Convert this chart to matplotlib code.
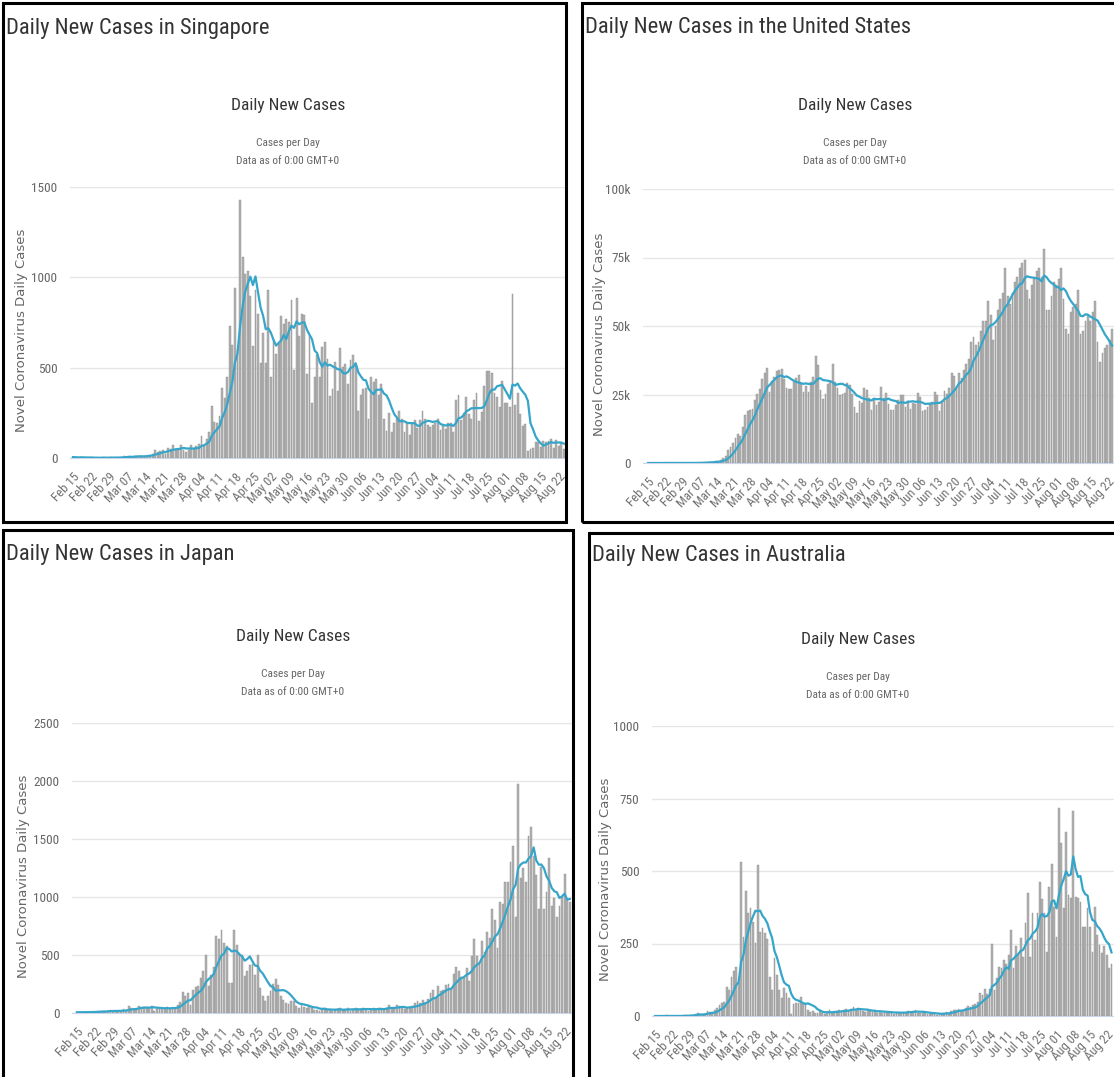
import numpy as np
import pandas as pd
import matplotlib
matplotlib.use("Agg")
import matplotlib.pyplot as plt
from matplotlib import font_manager
from matplotlib.font_manager import FontProperties
from matplotlib.patches import Rectangle

W, H = 1114, 1077

dates = pd.date_range("2020-02-15", periods=192, freq="D")

# daily new cases, one row per week starting Feb 15
singapore = [
    5, 3, 2, 4, 3, 1, 1,
    3, 1, 1, 1, 2, 3, 2,
    0, 4, 2, 2, 2, 7, 13,
    8, 12, 0, 10, 12, 12, 9,
    13, 14, 17, 23, 47, 32, 40,
    47, 23, 54, 49, 73, 52, 49,
    70, 42, 35, 47, 74, 49, 65,
    75, 120, 66, 106, 142, 287, 198,
    191, 233, 386, 334, 447, 728, 623,
    942, 596, 1426, 1111, 1016, 1037, 897,
    618, 931, 799, 528, 690, 528, 932,
    447, 657, 573, 632, 788, 741, 768,
    753, 876, 486, 884, 675, 796, 793,
    465, 682, 305, 451, 570, 448, 614,
    642, 548, 344, 383, 533, 373, 611,
    506, 518, 408, 544, 569, 517, 261,
    347, 383, 386, 218, 451, 422, 436,
    347, 407, 214, 151, 247, 142, 191,
    218, 262, 218, 142, 191, 130, 191,
    213, 167, 213, 262, 215, 185, 170,
    183, 191, 215, 157, 183, 158, 193,
    191, 146, 322, 347, 211, 248, 338,
    245, 215, 322, 359, 205, 255, 397,
    481, 483, 469, 359, 336, 282, 424,
    307, 307, 282, 908, 295, 362, 242,
    175, 188, 40, 50, 56, 86, 86,
    62, 93, 90, 93, 107, 57, 98,
    64, 87, 50,
]

usa = [
    0, 0, 0, 0, 0, 0, 0,
    0, 0, 0, 0, 0, 1, 1,
    8, 8, 22, 21, 31, 70, 80,
    116, 106, 163, 290, 320, 450, 500,
    640, 760, 1000, 1800, 2600, 4700, 5900,
    7300, 9300, 10700, 9900, 13000, 17600, 18900,
    19500, 19800, 23000, 25200, 27000, 30500, 33000,
    34500, 25800, 30000, 31500, 33500, 34000, 34300,
    30500, 27500, 27000, 27100, 30000, 31000, 32200,
    29000, 26000, 28000, 26000, 29500, 31500, 39000,
    35700, 26700, 23400, 25300, 28700, 30100, 36300,
    29600, 27300, 24900, 25300, 25600, 29200, 28400,
    25100, 20300, 18200, 22800, 21900, 27300, 26700,
    23600, 19300, 22900, 21200, 22300, 27600, 23600,
    25500, 21500, 19500, 19500, 21000, 23000, 25000,
    25000, 20600, 22500, 19800, 21900, 21600, 25500,
    24000, 18900, 19200, 20400, 21800, 22300, 26000,
    25000, 18800, 22600, 26400, 25100, 27300, 32700,
    31800, 27200, 33000, 31000, 34000, 36000, 38000,
    44000, 46000, 43000, 44000, 48000, 52000, 52000,
    59000, 54000, 45000, 50000, 56000, 60000, 62000,
    71000, 61000, 58000, 62000, 66000, 68000, 71000,
    73000, 74000, 63000, 60000, 65000, 67000, 70000,
    71000, 68000, 78000, 56000, 56000, 61000, 66000,
    65000, 67000, 71000, 60000, 49000, 47000, 55000,
    57000, 58000, 63000, 47000, 48000, 52000, 54000,
    52000, 55000, 59000, 44000, 37000, 40000, 42000,
    43000, 45000, 49000,
]

japan = [
    6, 7, 6, 8, 10, 8, 12,
    12, 10, 13, 14, 20, 21, 24,
    18, 14, 14, 18, 33, 27, 58,
    47, 33, 26, 59, 52, 54, 55,
    41, 64, 15, 44, 36, 46, 39,
    53, 43, 39, 41, 65, 96, 184,
    150, 173, 65, 200, 220, 235, 300,
    360, 500, 230, 330, 400, 660, 640,
    716, 600, 580, 260, 255, 716, 590,
    520, 500, 318, 360, 410, 420, 330,
    500, 212, 150, 100, 150, 190, 250,
    290, 240, 150, 110, 90, 80, 100,
    100, 60, 40, 80, 55, 40, 60,
    40, 25, 30, 20, 35, 45, 25,
    30, 20, 25, 35, 40, 25, 30,
    40, 15, 35, 40, 35, 30, 45,
    35, 20, 25, 40, 35, 45, 40,
    30, 45, 70, 40, 35, 65, 60,
    50, 35, 40, 55, 60, 85, 100,
    90, 110, 85, 125, 170, 195, 130,
    230, 190, 200, 240, 250, 210, 340,
    400, 360, 310, 300, 390, 280, 490,
    640, 490, 420, 620, 530, 700, 650,
    900, 800, 560, 960, 940, 1130, 1130,
    1300, 1440, 830, 1973, 1160, 1250, 1130,
    1530, 1600, 1350, 1190, 900, 1260, 900,
    1040, 1340, 920, 990, 830, 920, 1000,
    1200, 980, 960,
]

australia = [
    0, 0, 0, 0, 0, 2, 0,
    0, 0, 0, 0, 0, 2, 2,
    1, 3, 4, 8, 11, 6, 3,
    8, 16, 15, 14, 21, 26, 38,
    45, 50, 100, 90, 135, 155, 170,
    115, 532, 274, 430, 355, 372, 325,
    253, 520, 290, 302, 285, 264, 135,
    90, 200, 142, 90, 61, 95, 80,
    61, 8, 41, 44, 44, 67, 44,
    44, 21, 15, 18, 12, 10, 16,
    12, 8, 15, 20, 10, 14, 18,
    20, 15, 22, 24, 18, 25, 30,
    22, 28, 20, 18, 15, 20, 16,
    14, 20, 12, 18, 10, 15, 12,
    10, 12, 8, 15, 12, 10, 14,
    12, 18, 14, 16, 20, 12, 10,
    14, 10, 8, 6, 12, 8, 5,
    8, 6, 10, 14, 12, 18, 20,
    22, 25, 18, 20, 28, 35, 30,
    38, 40, 50, 78, 72, 92, 75,
    92, 250, 90, 130, 170, 165, 193,
    180, 210, 297, 165, 240, 210, 268,
    205, 320, 423, 205, 355, 262, 355,
    463, 402, 355, 222, 446, 525, 376,
    273, 716, 596, 372, 636, 418, 406,
    707, 412, 406, 394, 308, 308, 372,
    308, 222, 376, 279, 245, 216, 240,
    210, 165, 180,
]

sg_ticks = [0, 500, 1000, 1500]
us_ticks = [0, 25000, 50000, 75000, 100000]
us_labels = ["0", "25k", "50k", "75k", "100k"]
jp_ticks = [0, 500, 1000, 1500, 2000, 2500]
au_ticks = [0, 250, 500, 750, 1000]

for s in (singapore, usa, japan, australia):
    assert len(s) == len(dates), len(s)


def narrow_font():
    # look for any narrow / condensed face on the system
    prefs = ["liberationsansnarrow-regular", "robotocondensed-regular",
             "dejavusanscondensed.", "opensans_condensed", "opensanscondensed",
             "notosans-condensed", "condensed-regular"]
    files = [f.fname for f in font_manager.fontManager.ttflist]
    for p in prefs:
        for fn in files:
            if p in fn.lower().replace(" ", ""):
                return fn
    for fn in files:
        low = fn.lower()
        if ("narrow" in low or "condensed" in low) and "bold" not in low and "italic" not in low \
                and "light" not in low and "oblique" not in low:
            return fn
    return None


NARROW_FILE = narrow_font()


def fp(size):
    if NARROW_FILE:
        return FontProperties(fname=NARROW_FILE, size=size)
    return FontProperties(family="Liberation Sans", size=size * 0.85)


BAR = "#b3b3b3"
BAR_EDGE = "#8c8c8c"
LINE = "#35a6ca"
GREY = "#666666"

fig = plt.figure(figsize=(W / 100, H / 100), dpi=100)


def fx(x):
    return x / W


def fy(y):
    return 1 - y / H


# (country, values, yticks, ylabels, panel box, plot box, feb15 px, px per day,
#  title baseline, chart title x, chart title baseline, y label x)
panels = [
    ("Singapore", singapore, sg_ticks, [str(t) for t in sg_ticks],
     (3, 3, 566, 522), (70, 187, 566, 458), 73, 2.57, 34, 288, 110, 22),
    ("the United States", usa, us_ticks, us_labels,
     (582, 3, 1118, 522), (643, 189, 1114, 463), 648, 2.43, 33, 855, 110, 599),
    ("Japan", japan, jp_ticks, [str(t) for t in jp_ticks],
     (3, 530, 573, 1081), (72, 723, 573, 1013), 77, 2.58, 560, 293, 641, 24),
    ("Australia", australia, au_ticks, [str(t) for t in au_ticks],
     (589, 533, 1118, 1081), (652, 726, 1114, 1016), 655, 2.39, 561, 858, 644, 605),
]

days = np.arange(len(dates))
tick_days = days[::7]
tick_labels = [d.strftime("%b %d") for d in dates[::7]]

for (name, values, yt, yl, pbox, abox, x0px, ppd, ty, cx, cy, ylx) in panels:
    px0, py0, px1, py1 = pbox
    ax0, ay0, ax1, ay1 = abox
    ax = fig.add_axes([fx(ax0), fy(ay1), (ax1 - ax0) / W, (ay1 - ay0) / H])

    vals = pd.Series(values, dtype=float)
    ax.bar(days, vals, width=0.72, color=BAR, edgecolor=BAR_EDGE, linewidth=0.3, zorder=2)
    ax.plot(days, vals.rolling(7, min_periods=1).mean(), color=LINE, lw=1.6, zorder=3)

    ax.set_xlim((ax0 - x0px) / ppd, (ax1 - x0px) / ppd)
    ax.set_ylim(0, yt[-1])
    ax.set_yticks(yt)
    ax.set_yticklabels(yl, color=GREY, fontproperties=fp(9.5))
    ax.set_xticks(tick_days)
    ax.set_xticklabels(tick_labels, rotation=47, ha="right", rotation_mode="anchor",
                       color="#707070", fontproperties=fp(9.2))
    ax.tick_params(axis="y", length=0, pad=9)
    ax.tick_params(axis="x", length=0, pad=9)
    ax.grid(axis="y", color="#e6e6e6", lw=1)
    ax.set_axisbelow(True)
    for side in ("top", "right", "left"):
        ax.spines[side].set_visible(False)
    ax.spines["bottom"].set_color("#ccd6eb")
    ax.patch.set_alpha(0)

    fig.text(fx(ylx), fy((ay0 + ay1) / 2 + 8), "Novel Coronavirus Daily Cases", rotation=90,
             fontsize=9.5, color=GREY, family="DejaVu Sans", ha="center", va="center")

    fig.text(fx(px0 + 3), fy(ty), "Daily New Cases in " + name, fontproperties=fp(16.2),
             color="#333333", va="baseline", ha="left")
    fig.text(fx(cx), fy(cy), "Daily New Cases", fontproperties=fp(12.5),
             color="#333333", ha="center", va="baseline")
    fig.text(fx(cx), fy(cy + 36), "Cases per Day", fontproperties=fp(8.2),
             color=GREY, ha="center", va="baseline")
    fig.text(fx(cx), fy(cy + 54), "Data as of 0:00 GMT+0", fontproperties=fp(8.2),
             color=GREY, ha="center", va="baseline")

    fig.add_artist(Rectangle((fx(px0), fy(py1)), (px1 - px0) / W, (py1 - py0) / H,
                             transform=fig.transFigure, fill=False, edgecolor="black",
                             lw=2.2, zorder=10))

fig.savefig("out.png", dpi=100)
